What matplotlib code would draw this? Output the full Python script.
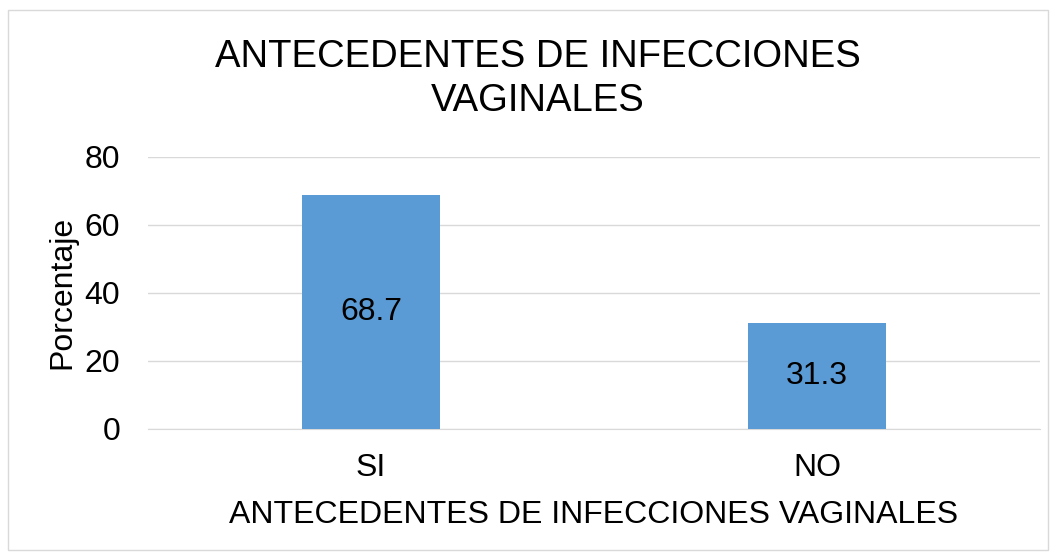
import matplotlib
matplotlib.use("Agg")
import matplotlib.pyplot as plt
from matplotlib.patches import Rectangle

categories = ["SI", "NO"]
values = [68.7, 31.3]
yticks = [0, 20, 40, 60, 80]
title = "ANTECEDENTES DE INFECCIONES\nVAGINALES"
xlabel = "ANTECEDENTES DE INFECCIONES VAGINALES"
ylabel = "Porcentaje"

plt.rcParams['font.family'] = ['Liberation Sans', 'DejaVu Sans']

fig = plt.figure(figsize=(10.56, 5.54), dpi=100)
fig.patches.append(Rectangle((8/1056, 4/554), 1040/1056, 540/554, transform=fig.transFigure,
                             fill=False, edgecolor='#D9D9D9', linewidth=1))

ax = fig.add_axes([148/1056, 1 - 429/554, (1040-148)/1056, (429-157)/554])
x = range(len(categories))
bars = ax.bar(x, values, width=0.31, color='#5B9BD5', zorder=3)
for b, v in zip(bars, values):
    ax.text(b.get_x() + b.get_width()/2, v/2, f"{v}", ha='center', va='center',
            fontsize=23, color='black', zorder=4)

ax.set_xlim(-0.5, len(categories) - 0.5)
ax.set_ylim(0, 80)
ax.set_yticks(yticks)
ax.set_xticks(list(x))
ax.set_xticklabels(categories)
ax.tick_params(axis='both', length=0, labelsize=23, colors='black')
ax.tick_params(axis='y', pad=20)
ax.tick_params(axis='x', pad=17)
ax.yaxis.grid(True, color='#D9D9D9', linewidth=1, zorder=0)
for s in ['top', 'right', 'left']:
    ax.spines[s].set_visible(False)
ax.spines['bottom'].set_color('#D9D9D9')
ax.set_xlabel(xlabel, fontsize=23, va='center')
ax.xaxis.set_label_coords(0.5, (429 - 515) / 272)
ax.set_ylabel(ylabel, fontsize=23, va='center')
ax.yaxis.set_label_coords((62 - 148) / 892, (429 - 292) / 272)

fig.text(538/1056, 1 - 79/554, title, ha='center', va='center', fontsize=27.5, linespacing=1.27)

fig.savefig("out.png", dpi=100)
